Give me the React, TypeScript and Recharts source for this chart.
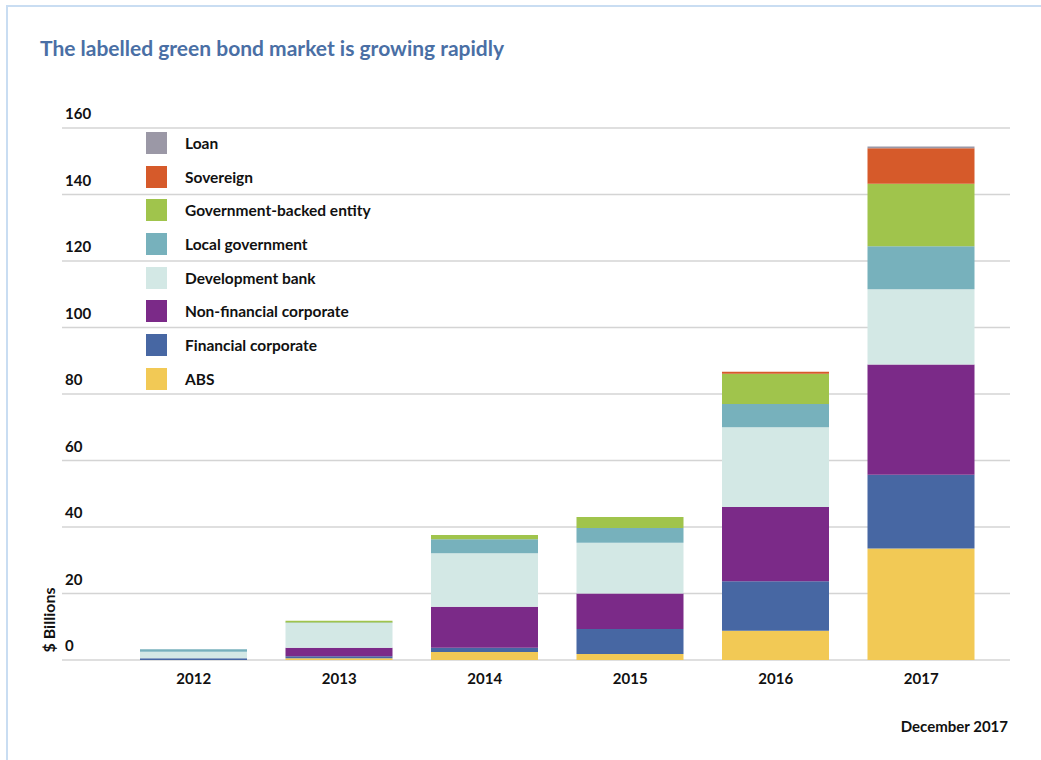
import { Bar, BarChart, CartesianGrid, XAxis, YAxis } from "recharts";

const years = ["2012", "2013", "2014", "2015", "2016", "2017"];

// $ billions per issuer type
const abs = [0, 0.5, 2.4, 1.8, 8.8, 33.5];
const financialCorporate = [0.5, 0.6, 1.3, 7.5, 14.9, 22.2];
const nonFinancialCorporate = [0, 2.6, 12.3, 10.7, 22.3, 33.2];
const developmentBank = [2.0, 7.4, 16.1, 15.3, 24.0, 22.6];
const localGovernment = [0.7, 0.2, 4.2, 4.4, 7.0, 12.9];
const governmentBacked = [0, 0.5, 1.3, 3.3, 9.1, 18.8];
const sovereign = [0, 0, 0, 0, 0.6, 10.7];
const loan = [0, 0, 0, 0, 0, 0.5];

const yTicks = [0, 20, 40, 60, 80, 100, 120, 140, 160];

// bottom of the stack first
const series = [
  { key: "abs", name: "ABS", color: "#f2c955", values: abs },
  { key: "fin", name: "Financial corporate", color: "#4767a3", values: financialCorporate },
  { key: "nonfin", name: "Non-financial corporate", color: "#7b2a88", values: nonFinancialCorporate },
  { key: "dev", name: "Development bank", color: "#d3e8e5", values: developmentBank },
  { key: "local", name: "Local government", color: "#77b1bc", values: localGovernment },
  { key: "govbacked", name: "Government-backed entity", color: "#a0c44c", values: governmentBacked },
  { key: "sov", name: "Sovereign", color: "#d65a2a", values: sovereign },
  { key: "loan", name: "Loan", color: "#9b98a6", values: loan },
];

const data = years.map((year, i) => {
  const row: Record<string, string | number> = { year };
  series.forEach((s) => {
    row[s.key] = s.values[i];
  });
  return row;
});

const FONT = "Lato, 'Open Sans', sans-serif";

const YTick = ({ y, payload }: any) => (
  <text
    x={65}
    y={y - 9}
    fill="#111"
    fontSize={15}
    fontWeight={700}
    fontFamily={FONT}
    textAnchor="start"
  >
    {payload.value}
  </text>
);

const XTick = ({ x, y, payload }: any) => (
  <text
    x={x}
    y={y + 16}
    fill="#111"
    fontSize={15}
    fontWeight={700}
    fontFamily={FONT}
    textAnchor="middle"
  >
    {payload.value}
  </text>
);

function IssuerLegend() {
  return (
    <div style={{ position: "absolute", left: 146, top: 126 }}>
      {[...series].reverse().map((s) => (
        <div
          key={s.key}
          style={{ display: "flex", alignItems: "center", height: 33.7 }}
        >
          <div
            style={{ width: 21, height: 22, background: s.color, marginRight: 18 }}
          />
          <span style={{ fontSize: 15.5, fontWeight: 700, color: "#111" }}>
            {s.name}
          </span>
        </div>
      ))}
    </div>
  );
}

export default function App() {
  return (
    <div
      style={{
        position: "relative",
        width: 1041,
        height: 760,
        background: "#fff",
        fontFamily: FONT,
      }}
    >
      <style>{`body{margin:0}`}</style>
      <div
        style={{
          position: "absolute",
          left: 6,
          top: 5,
          right: 0,
          bottom: 0,
          borderTop: "2px solid #c9ddf2",
          borderLeft: "2px solid #c9ddf2",
        }}
      />
      <div
        style={{
          position: "absolute",
          left: 40,
          top: 35,
          fontSize: 21,
          fontWeight: 700,
          color: "#4a6fa5",
        }}
      >
        The labelled green bond market is growing rapidly
      </div>
      <div
        style={{
          position: "absolute",
          left: 48,
          top: 620,
          transform: "translate(-50%, -50%) rotate(-90deg)",
          fontSize: 16,
          fontWeight: 700,
          color: "#111",
          whiteSpace: "nowrap",
        }}
      >
        $ Billions
      </div>
      <div
        style={{
          position: "absolute",
          right: 33,
          top: 717,
          fontSize: 15,
          fontWeight: 700,
          color: "#111",
        }}
      >
        December 2017
      </div>
      <div style={{ position: "absolute", left: 0, top: 0 }}>
        <BarChart
          width={1041}
          height={760}
          data={data}
          margin={{ top: 128, right: 31, left: 0, bottom: 70 }}
        >
          <CartesianGrid
            vertical={false}
            stroke="#d4d4d4"
            strokeWidth={1.5}
          />
          <XAxis
            dataKey="year"
            axisLine={false}
            tickLine={false}
            tick={<XTick />}
            padding={{ left: 59, right: 16 }}
            interval={0}
            height={30}
          />
          <YAxis
            width={62}
            domain={[0, 160]}
            ticks={yTicks}
            axisLine={false}
            tickLine={false}
            tick={<YTick />}
          />
          {series.map((s) => (
            <Bar
              key={s.key}
              dataKey={s.key}
              name={s.name}
              stackId="a"
              fill={s.color}
              barSize={107}
              isAnimationActive={false}
            />
          ))}
        </BarChart>
      </div>
      <IssuerLegend />
    </div>
  );
}
